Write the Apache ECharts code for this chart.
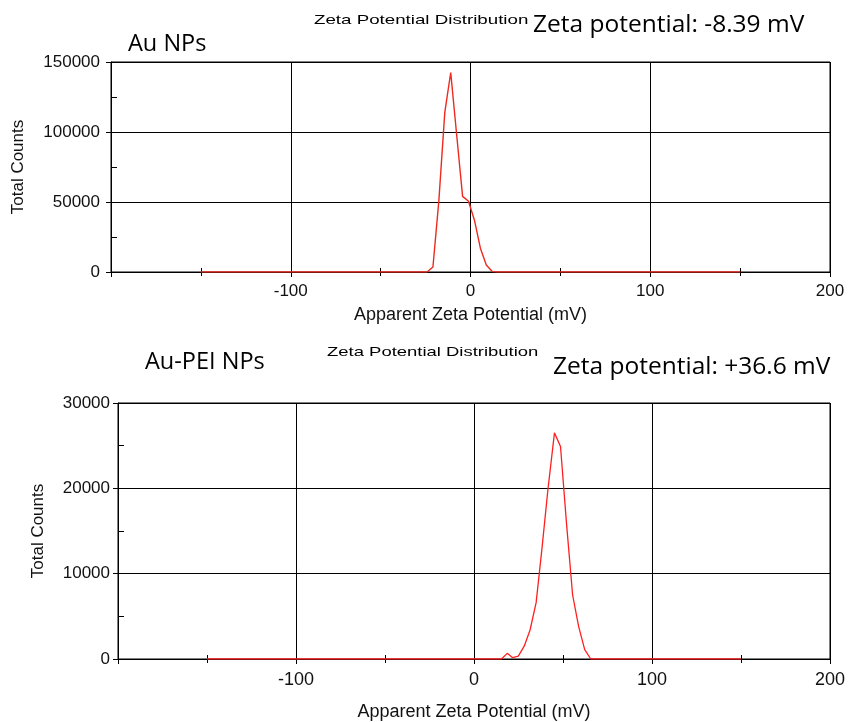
<!DOCTYPE html>
<html>
<head>
<meta charset="utf-8">
<script src="https://cdn.jsdelivr.net/npm/echarts@6/dist/echarts.min.js"></script>
<style>
  html, body { margin: 0; padding: 0; background: #fff; }
  #chart { width: 850px; height: 722px; }
</style>
</head>
<body>
<div id="chart"></div>
<script>
// ---- Data ----
const auPotential = [-150, -24.2, -20.9, -17.6, -14.3, -11.0, -7.7, -4.4, -1.1, 2.2, 5.5, 8.8, 12.1, 15.4, 150];
const auCounts    = [0, 0, 3600, 51000, 114000, 142500, 98000, 54000, 50500, 37000, 17000, 5000, 300, 0, 0];

const peiPotential = [-150, 15.4, 18.7, 21.7, 24.9, 28.2, 31.5, 34.9, 38.2, 41.5, 45.2, 48.6, 52.0, 55.4, 58.8, 62.2, 65.6, 150];
const peiCounts    = [0, 0, 660, 150, 330, 1500, 3400, 6600, 13000, 19800, 26500, 24900, 15800, 7500, 3800, 1100, 0, 0];

const xTicks = { min: -200, max: 200, major: 100, minor: 50 };
const auYTicks = { min: 0, max: 150000, major: 50000, minor: 25000 };
const peiYTicks = { min: 0, max: 30000, major: 10000, minor: 5000 };

const texts = {
  title: 'Zeta Potential Distribution',
  xName: 'Apparent Zeta Potential (mV)',
  yName: 'Total Counts',
  auLabel: 'Au NPs',
  auZeta: 'Zeta potential: -8.39 mV',
  peiLabel: 'Au-PEI NPs',
  peiZeta: 'Zeta potential: +36.6 mV'
};

// ---- Chart ----
const FONT = 'Liberation Sans, Arial, sans-serif';
const CAL = 'Open Sans, Noto Sans, sans-serif';
const black = '#000';

function mainX(gridIndex, labelSize, margin, nameGap) {
  return {
    gridIndex, type: 'value', position: 'bottom',
    min: xTicks.min, max: xTicks.max, interval: xTicks.major,
    axisLine: { show: true, onZero: false, lineStyle: { color: black, width: 1 } },
    axisTick: { show: true, inside: false, length: 5, lineStyle: { color: black } },
    minorTick: { show: true, splitNumber: 2, length: 4, lineStyle: { color: black } },
    splitLine: { show: true, lineStyle: { color: black, width: 1 } },
    axisLabel: {
      formatter: v => (v === xTicks.min ? '' : String(v)),
      fontSize: labelSize, color: '#111', fontFamily: FONT, margin
    },
    name: texts.xName, nameLocation: 'middle', nameGap,
    nameTextStyle: { fontSize: 18, color: '#111', fontFamily: FONT }
  };
}
function minorX(gridIndex) {
  return {
    gridIndex, type: 'value', position: 'bottom',
    min: xTicks.min, max: xTicks.max, interval: xTicks.minor,
    axisLine: { show: false, onZero: false },
    axisTick: { show: true, inside: true, length: 4, lineStyle: { color: black } },
    axisLabel: { show: false }, splitLine: { show: false }
  };
}
function mainY(gridIndex, t, labelSize, margin, nameGap) {
  return {
    gridIndex, type: 'value', position: 'left',
    min: t.min, max: t.max, interval: t.major,
    axisLine: { show: true, onZero: false, lineStyle: { color: black, width: 1 } },
    axisTick: { show: true, inside: false, length: 5, lineStyle: { color: black } },
    splitLine: { show: true, lineStyle: { color: black, width: 1 } },
    axisLabel: { formatter: v => String(v), fontSize: labelSize, color: '#111', fontFamily: FONT, margin },
    name: texts.yName, nameLocation: 'middle', nameGap, nameRotate: 90,
    nameTextStyle: { fontSize: 17, color: '#111', fontFamily: FONT }
  };
}
function minorY(gridIndex, t) {
  return {
    gridIndex, type: 'value', position: 'left',
    min: t.min, max: t.max, interval: t.minor,
    axisLine: { show: false, onZero: false },
    axisTick: { show: true, inside: true, length: 6, lineStyle: { color: black } },
    axisLabel: { show: false }, splitLine: { show: false }
  };
}
function toPairs(xs, ys) { return xs.map((x, i) => [x, ys[i]]); }

function gtext(txt, x, y, size, family, scaleX) {
  return {
    type: 'text', x, y, scaleX: scaleX || 1, scaleY: 1,
    style: {
      text: txt, fontSize: size, fontFamily: family, fill: '#000',
      align: 'left', verticalAlign: 'middle',
      textAlign: 'left', textVerticalAlign: 'middle'
    }
  };
}

const chart = echarts.init(document.getElementById('chart'), null, { renderer: 'canvas' });
chart.setOption({
  animation: false,
  backgroundColor: '#fff',
  grid: [
    { left: 111, top: 62, width: 719, height: 210, show: true, borderColor: black, borderWidth: 1 },
    { left: 118, top: 403, width: 712, height: 256, show: true, borderColor: black, borderWidth: 1 }
  ],
  xAxis: [mainX(0, 17, 11, 34), minorX(0), mainX(1, 18, 12, 44), minorX(1)],
  yAxis: [mainY(0, auYTicks, 17, 11, 84), minorY(0, auYTicks), mainY(1, peiYTicks, 17, 8, 71), minorY(1, peiYTicks)],
  series: [
    {
      type: 'line', xAxisIndex: 0, yAxisIndex: 0,
      data: toPairs(auPotential, auCounts),
      showSymbol: false, symbol: 'none',
      lineStyle: { color: '#ee2a1e', width: 1.4 }
    },
    {
      type: 'line', xAxisIndex: 2, yAxisIndex: 2,
      data: toPairs(peiPotential, peiCounts),
      showSymbol: false, symbol: 'none',
      lineStyle: { color: '#ff1f1f', width: 1.3 }
    }
  ],
  graphic: [
    gtext(texts.title, 314, 20, 13, FONT, 1.44),
    gtext(texts.auZeta, 533, 25, 24.5, CAL),
    gtext(texts.auLabel, 128, 44, 23.5, CAL),
    gtext(texts.title, 327, 352, 13, FONT, 1.42),
    gtext(texts.peiLabel, 145, 362, 23.5, CAL),
    gtext(texts.peiZeta, 553, 367, 24.5, CAL)
  ]
});
</script>
</body>
</html>
